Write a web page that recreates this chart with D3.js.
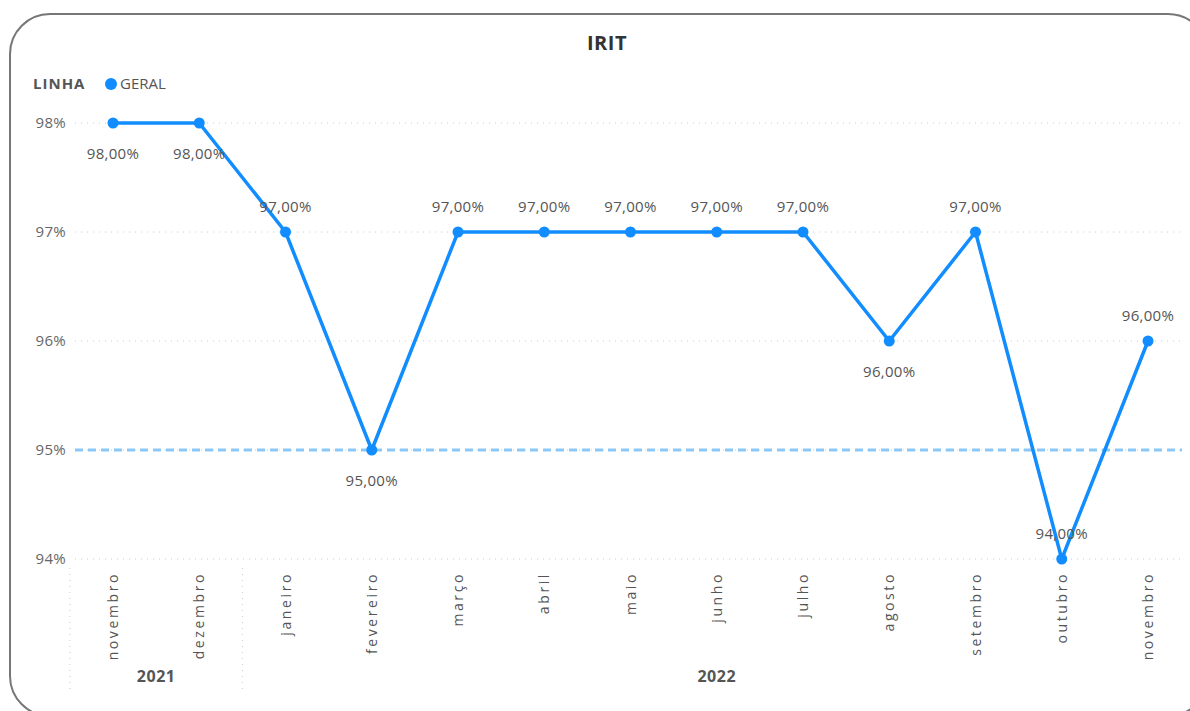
<!DOCTYPE html>
<html>
<head>
<meta charset="utf-8">
<script src="https://cdn.jsdelivr.net/npm/d3@7"></script>
<style>
  body { margin: 0; background: #fff; }
  svg { display: block; font-family: "Open Sans", "Noto Sans", sans-serif; }
</style>
</head>
<body>
<svg width="1190" height="711"></svg>
<script>
const width = 1190;
const height = 711;

// data
const months = ['novembro', 'dezembro', 'janeiro', 'fevereiro', 'março', 'abril', 'maio',
    'junho', 'julho', 'agosto', 'setembro', 'outubro', 'novembro'];
const years = ['2021', '2021', '2022', '2022', '2022', '2022', '2022',
    '2022', '2022', '2022', '2022', '2022', '2022'];
const irit = [98, 98, 97, 95, 97, 97, 97, 97, 97, 96, 97, 94, 96];
const yTicks = [94, 95, 96, 97, 98];
const target = 95;

const blue = '#118DFF';

const svg = d3.select('svg');

// card frame
svg.append('rect')
    .attr('x', 10).attr('y', 14)
    .attr('width', 1198).attr('height', 702)
    .attr('rx', 40)
    .attr('fill', '#fff')
    .attr('stroke', '#777')
    .attr('stroke-width', 2);

svg.append('text')
    .attr('x', 607).attr('y', 50)
    .attr('text-anchor', 'middle')
    .attr('font-size', 20)
    .attr('font-weight', 'bold')
    .attr('letter-spacing', 0.5)
    .attr('fill', '#333')
    .text('IRIT');

// legend
const legend = svg.append('g').attr('transform', 'translate(33, 84)');
legend.append('text')
    .attr('y', 5)
    .attr('font-size', 15)
    .attr('font-weight', 'bold')
    .attr('letter-spacing', 1)
    .attr('fill', '#555')
    .text('LINHA');
legend.append('circle')
    .attr('cx', 78).attr('cy', 0).attr('r', 6)
    .attr('fill', blue);
legend.append('text')
    .attr('x', 87).attr('y', 5)
    .attr('font-size', 15)
    .attr('fill', '#555')
    .text('GERAL');

const idx = months.map((m, i) => i);

const x = d3.scalePoint()
    .domain(idx)
    .range([113, 1148]);

const y = d3.scaleLinear()
    .domain([94, 98])
    .range([559, 123]);

// y grid
const grid = svg.append('g');
grid.selectAll('line')
    .data(yTicks)
    .join('line')
    .attr('x1', 75).attr('x2', 1182)
    .attr('y1', d => y(d)).attr('y2', d => y(d))
    .attr('stroke', '#ccc')
    .attr('stroke-width', 1)
    .attr('stroke-dasharray', '1,5');

const yAxis = svg.append('g')
    .attr('transform', 'translate(66, 0)')
    .call(d3.axisLeft(y).tickValues(yTicks).tickSize(0).tickPadding(0)
        .tickFormat(d => d + '%'));
yAxis.select('.domain').remove();
yAxis.selectAll('text')
    .attr('font-size', 15)
    .attr('letter-spacing', 0.3)
    .attr('font-family', '"Open Sans", sans-serif')
    .attr('fill', '#666');

// target line
svg.append('line')
    .attr('x1', 75).attr('x2', 1182)
    .attr('y1', y(target)).attr('y2', y(target))
    .attr('stroke', '#8cc8f7')
    .attr('stroke-width', 3)
    .attr('stroke-dasharray', '8,5');

// x axis: month labels
svg.append('g')
    .selectAll('text')
    .data(idx)
    .join('text')
    .attr('transform', i => `translate(${x(i) + 5}, 572) rotate(-90)`)
    .attr('text-anchor', 'end')
    .attr('font-size', 14)
    .attr('letter-spacing', 2.6)
    .attr('fill', '#555')
    .text(i => months[i]);

// year groups
const yearGroups = d3.groups(idx, i => years[i]);
const step = x.step();
const sep = svg.append('g');
yearGroups.forEach(([yr, list], k) => {
    const left = x(list[0]) - step / 2;
    const right = x(list[list.length - 1]) + step / 2;
    if (k === 0) {
        sep.append('line')
            .attr('x1', left).attr('x2', left)
            .attr('y1', 568).attr('y2', 692);
    }
    if (k < yearGroups.length - 1) {
        sep.append('line')
            .attr('x1', right).attr('x2', right)
            .attr('y1', 568).attr('y2', 692);
    }
    svg.append('text')
        .attr('x', (left + right) / 2)
        .attr('y', 682)
        .attr('text-anchor', 'middle')
        .attr('font-size', 16)
        .attr('font-weight', 'bold')
        .attr('letter-spacing', 0.5)
        .attr('fill', '#555')
        .text(yr);
});
sep.selectAll('line')
    .attr('stroke', '#ccc')
    .attr('stroke-dasharray', '1,5');

// line
const line = d3.line()
    .x(i => x(i))
    .y(i => y(irit[i]));

svg.append('path')
    .datum(idx)
    .attr('d', line)
    .attr('fill', 'none')
    .attr('stroke', blue)
    .attr('stroke-width', 3.5)
    .attr('stroke-linejoin', 'round');

svg.append('g')
    .selectAll('circle')
    .data(idx)
    .join('circle')
    .attr('cx', i => x(i))
    .attr('cy', i => y(irit[i]))
    .attr('r', 5.5)
    .attr('fill', blue);

// data labels: below when at top of scale or at a local dip, else above
function below(i) {
    const v = irit[i];
    if (v >= d3.max(irit)) return true;
    if (v <= d3.min(irit)) return false;
    const prev = i > 0 ? irit[i - 1] : -Infinity;
    const next = i < irit.length - 1 ? irit[i + 1] : -Infinity;
    return v < prev && v < next;
}
const fmt = v => d3.format('.2f')(v).replace('.', ',') + '%';

svg.append('g')
    .selectAll('text')
    .data(idx)
    .join('text')
    .attr('x', i => x(i))
    .attr('y', i => y(irit[i]) + (below(i) ? 36 : -20))
    .attr('text-anchor', 'middle')
    .attr('font-size', 15)
    .attr('letter-spacing', 0.3)
    .attr('fill', '#555')
    .text(i => fmt(irit[i]));
</script>
</body>
</html>
